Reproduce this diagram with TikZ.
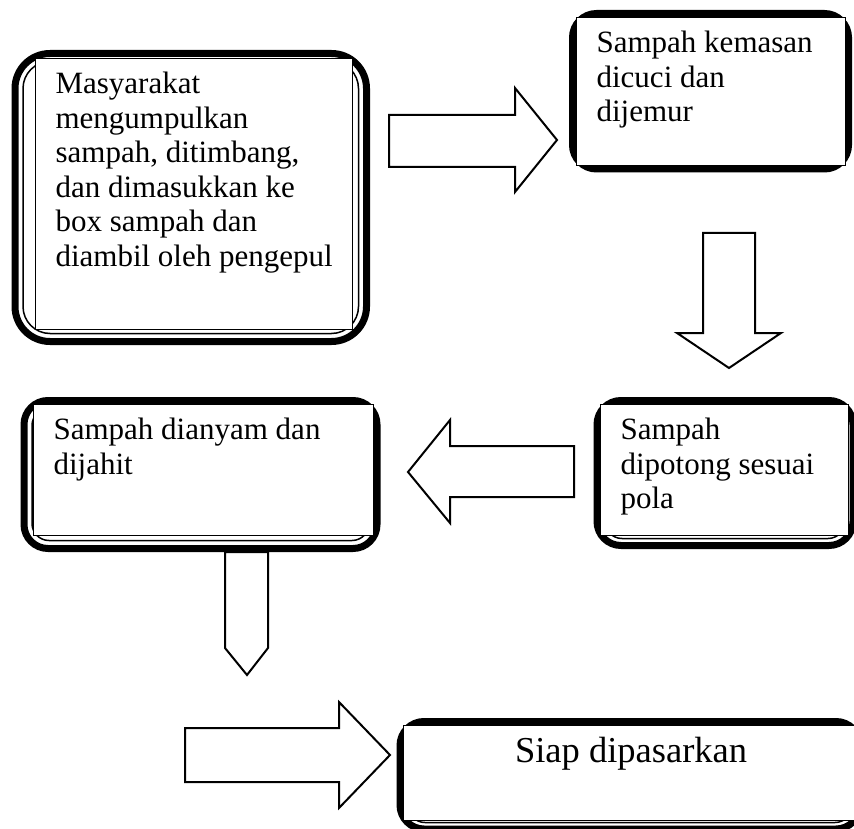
\documentclass[tikz,border=0pt]{standalone}
\usepackage{fontspec}
\setmainfont{Liberation Serif}

\begin{document}
\begin{tikzpicture}[x=1pt, y=-1pt,
  outerframe/.style={draw, line width=7pt, rounded corners=#1},
  outerframe/.default=24pt,
  thinframe/.style={draw, line width=1.5pt, rounded corners=#1},
  thinframe/.default=17pt,
  textbox/.style={draw, line width=1.2pt, fill=white, anchor=north west,
    inner xsep=20pt, inner ysep=0pt, font=\fontsize{31}{34.5}\selectfont},
  blockarrow/.style={draw, line width=2pt, line join=miter}]

\useasboundingbox (0,0) rectangle (854,829);

% Frames
\draw[outerframe=35pt] (15,53.5) rectangle (366.5,341.5);
\draw[thinframe=27pt] (23,61.5) rectangle (358.5,333.5);

\draw[outerframe] (572.5,13.5) rectangle (848.5,169);
\draw[thinframe] (580.5,21.5) rectangle (840.5,161);

\draw[outerframe] (597,400.5) rectangle (853,545.5);
\draw[thinframe] (605,408.5) rectangle (845,538.5);

\draw[outerframe] (24,400.5) rectangle (377,548.5);
\draw[thinframe] (32,408.5) rectangle (369,540.5);

\draw[outerframe] (400,721.5) rectangle (860,829);
\draw[thinframe] (408,729.5) rectangle (852,822.5);

% Steps
\node[textbox] (kumpul) at (35,58) {\parbox[t][271pt][t]{277pt}{\raggedright
  \rule{0pt}{35pt}Masyarakat\\ mengumpulkan\\ sampah, ditimbang,\\
  dan dimasukkan ke\\ box sampah dan\\ diambil oleh pengepul}};
\node[textbox] (cuci) at (576,17) {\parbox[t][148pt][t]{229pt}{\raggedright
  \rule{0pt}{35pt}Sampah kemasan\\ dicuci dan\\ dijemur}};
\node[textbox] (potong) at (600,404) {\parbox[t][131pt][t]{208pt}{\raggedright
  \rule{0pt}{35pt}Sampah\\ dipotong sesuai\\ pola}};
\node[textbox] (anyam) at (33,404) {\parbox[t][131pt][t]{300pt}{\raggedright
  \rule{0pt}{35pt}Sampah dianyam dan\\ dijahit}};
\node[textbox, font=\fontsize{36.5}{40}\selectfont] (pasar) at (403,725)
  {\parbox[t][95pt][t]{415pt}{\centering
  \rule{0pt}{36.7pt}Siap dipasarkan}};

% Arrows
\draw[blockarrow] (389,115) -- (515,115) -- (515,88) -- (557,140)
  -- (515,192) -- (515,167) -- (389,167) -- cycle;
\draw[blockarrow] (703,233) -- (755,233) -- (755,333) -- (781,333)
  -- (729,368) -- (677,333) -- (703,333) -- cycle;
\draw[blockarrow] (574,446) -- (574,497) -- (450,497) -- (450,523)
  -- (408,472) -- (450,420) -- (450,446) -- cycle;
\draw[blockarrow] (225,552) -- (268,552) -- (268,648) -- (247,675)
  -- (225,648) -- cycle;
\draw[blockarrow] (185,728) -- (339,728) -- (339,702) -- (390,755)
  -- (339,808) -- (339,782) -- (185,782) -- cycle;

\end{tikzpicture}
\end{document}
